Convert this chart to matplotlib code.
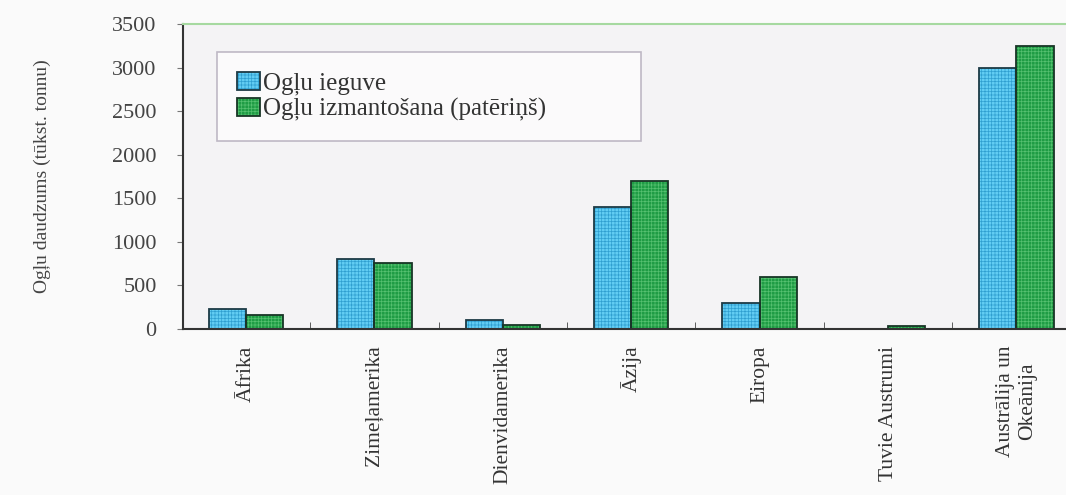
import matplotlib.pyplot as plt
from matplotlib.legend_handler import HandlerTuple
import numpy as np

regions = ['Āfrika', 'Zimeļamerika', 'Dienvidamerika', 'Āzija', 'Eiropa',
           'Tuvie Austrumi', 'Austrālija un\nOkeānija']
ieguve = [230, 800, 100, 1400, 300, 5, 3000]
paterins = [160, 760, 50, 1700, 600, 30, 3250]
yticks = [0, 500, 1000, 1500, 2000, 2500, 3000, 3500]

plt.rcParams['font.family'] = ['Liberation Serif', 'DejaVu Serif']
plt.rcParams['hatch.linewidth'] = 0.5

fig = plt.figure(figsize=(10.66, 4.95), dpi=100)
fig.patch.set_facecolor('#fafafa')
ax = fig.add_axes([0.1717, 0.3354, 0.83, 0.6162])
ax.set_facecolor('#f4f3f5')

x = np.arange(len(regions))
w = 0.29
# fine grid fill first (hatch takes the edge colour), dark outline on top
b1 = ax.bar(x - w / 2, ieguve, w, color='#62cdf3', edgecolor='#2f9fd0',
            linewidth=0, hatch='+++++')
b2 = ax.bar(x + w / 2, paterins, w, color='#1f9c45', edgecolor='#55c070',
            linewidth=0, hatch='+++++')
o1 = ax.bar(x - w / 2, ieguve, w, fill=False, edgecolor='#1d3a45', linewidth=1.3)
o2 = ax.bar(x + w / 2, paterins, w, fill=False, edgecolor='#183526', linewidth=1.3)

ax.set_xlim(-0.49, 6.4)
ax.set_ylim(0, 3500)
ax.set_yticks(yticks)
ax.set_yticklabels([str(v) for v in yticks], fontsize=16, color='#444444')
ax.set_xticks(x)
ax.set_xticklabels(regions, rotation=90, fontsize=15.5, color='#333333',
                   va='top', ha='center', multialignment='center')
ax.set_xticks(x[:-1] + 0.5, minor=True)
ax.tick_params(axis='x', which='major', length=0, pad=12)
ax.tick_params(axis='x', which='minor', direction='in', length=5, color='#444444')
ax.tick_params(axis='y', direction='out', length=4, color='#777777', pad=15)

ax.spines['right'].set_visible(False)
ax.spines['top'].set_color('#a6d9a0')
ax.spines['top'].set_linewidth(1.5)
for s in ['left', 'bottom']:
    ax.spines[s].set_color('#333333')
    ax.spines[s].set_linewidth(1.5)

ax.set_ylabel('Ogļu daudzums (tūkst. tonnu)', fontsize=14, color='#444444',
              labelpad=44)

leg = ax.legend([(b1[0], o1[0]), (b2[0], o2[0])],
                ['Ogļu ieguve', 'Ogļu izmantošana (patēriņš)'],
                handler_map={tuple: HandlerTuple(ndivide=1)},
                loc='upper left', bbox_to_anchor=(0.0385, 0.62, 0.479, 0.288),
                mode='expand', fontsize=18,
                frameon=True, fancybox=False, handlelength=0.9,
                handleheight=0.75, handletextpad=0.15, borderpad=0.8,
                labelspacing=0.1, borderaxespad=0)
leg.get_frame().set_edgecolor('#b0a8b8')
leg.get_frame().set_facecolor('#fdfdfd')
leg.get_frame().set_linewidth(1.2)
for t in leg.get_texts():
    t.set_color('#333333')

fig.savefig('out.png', dpi=100, facecolor=fig.get_facecolor())
